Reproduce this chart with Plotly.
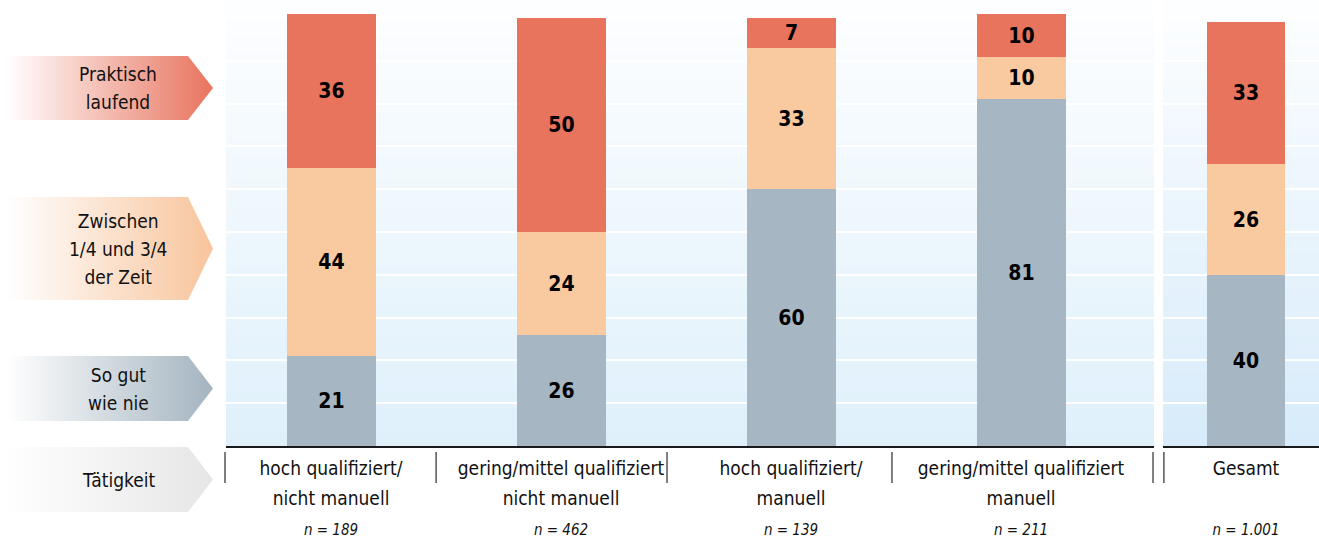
import plotly.graph_objects as go

# ---------------- data ----------------
categories = ["hq_nm", "gm_nm", "hq_m", "gm_m"]
cat_line1 = ["hoch qualifiziert/", "gering/mittel qualifiziert", "hoch qualifiziert/", "gering/mittel qualifiziert"]
cat_line2 = ["nicht manuell", "nicht manuell", "manuell", "manuell"]
n_values = ["189", "462", "139", "211"]

so_gut_wie_nie = [21, 26, 60, 81]
zwischen = [44, 24, 33, 10]
praktisch_laufend = [36, 50, 7, 10]

total_category = ["Gesamt"]
total_n = ["1.001"]
total_so_gut_wie_nie = [40]
total_zwischen = [26]
total_praktisch_laufend = [33]

series_names = ["So gut wie nie", "Zwischen 1/4 und 3/4 der Zeit", "Praktisch laufend"]
arrow_labels = ["Praktisch<br>laufend", "Zwischen<br>1/4 und 3/4<br>der Zeit", "So gut<br>wie nie", "Tätigkeit"]

# ---------------- styling ----------------
W, H = 1319, 539
FONT = "DejaVu Sans Condensed, Liberation Sans Narrow, Roboto Condensed, Arial Narrow, sans-serif"
colors = ["#a6b7c3", "#f9c9a0", "#e8745e"]
arrow_colors = ["#e8745e", "#f8c49c", "#a4b4c0", "#e6e6e6"]

plot_bottom = 446
main_left, main_right = 226, 1154
tot_left, tot_right = 1163, 1319
px_per_unit = 230.0
c0 = 331  # pixel centre of first category
tot_c = 1246

fig = go.Figure()

main_series = [so_gut_wie_nie, zwischen, praktisch_laufend]
tot_series = [total_so_gut_wie_nie, total_zwischen, total_praktisch_laufend]
for name, col, vals, tvals in zip(series_names, colors, main_series, tot_series):
    common = dict(
        marker=dict(color=col, line=dict(width=0)),
        texttemplate="<b>%{y}</b>", textposition="inside", insidetextanchor="middle",
        textangle=0, constraintext="none",
        textfont=dict(family=FONT, size=21, color="black"),
        hoverinfo="skip", showlegend=False, name=name,
    )
    fig.add_trace(go.Bar(x=categories, y=vals, width=89 / px_per_unit, xaxis="x", yaxis="y", **common))
    fig.add_trace(go.Bar(x=total_category, y=tvals, width=78 / px_per_unit, xaxis="x2", yaxis="y2", **common))

# tick labels
def tick(l1, l2, n):
    s = f"<span style='font-size:19px'>{l1}</span>"
    s += f"<br><span style='font-size:19px'>{l2}</span>" if l2 else "<br> "
    s += f"<br><span style='font-size:15px'><i>n = {n}</i></span>"
    return s

main_ticktext = [tick(a, b, n) for a, b, n in zip(cat_line1, cat_line2, n_values)]
tot_ticktext = [tick(total_category[0], "", total_n[0])]

ymax = plot_bottom / 4.28
ydom = [(H - plot_bottom) / H, 1.0]

axis_common = dict(showgrid=False, zeroline=False, ticks="", showline=True,
                   linecolor="#1a1a1a", linewidth=1.5,
                   tickfont=dict(family=FONT, size=23, color="#111"))

layout = dict(
    width=W, height=H,
    margin=dict(l=0, r=0, t=0, b=0),
    paper_bgcolor="white", plot_bgcolor="rgba(0,0,0,0)",
    barmode="stack", bargap=0,
    xaxis=dict(domain=[main_left / W, main_right / W], type="category",
               range=[(main_left - c0) / px_per_unit, (main_right - c0) / px_per_unit],
               tickmode="array", tickvals=categories, ticktext=main_ticktext,
               anchor="y", **axis_common),
    xaxis2=dict(domain=[tot_left / W, 1.0], type="category",
                range=[(tot_left - tot_c) / px_per_unit, (tot_right - tot_c) / px_per_unit],
                tickmode="array", tickvals=total_category, ticktext=tot_ticktext,
                anchor="y2", **axis_common),
    yaxis=dict(domain=ydom, range=[0, ymax], showgrid=True, gridcolor="white", gridwidth=1.5,
               dtick=10, tick0=0, showticklabels=False, zeroline=False, anchor="x"),
    yaxis2=dict(domain=ydom, range=[0, ymax], showgrid=True, gridcolor="white", gridwidth=1.5,
                dtick=10, tick0=0, showticklabels=False, zeroline=False, anchor="x2"),
    xaxis3=dict(domain=[0, (main_left - 1) / W], range=[0, main_left - 1], visible=False,
                fixedrange=True, anchor="y3"),
    yaxis3=dict(domain=[0, 1], range=[H, 0], visible=False, fixedrange=True, anchor="x3"),
)
fig.update_layout(**layout)

# background gradients (decoration)
def lerp(a, b, t):
    return tuple(round(a[i] + (b[i] - a[i]) * t) for i in range(3))

nb = 60
shapes = []
for xr, yr, bottom in (("x domain", "y domain", (223, 240, 251)), ("x2 domain", "y2 domain", (215, 235, 250))):
    top = (253, 254, 255)
    for i in range(nb):
        c = lerp(bottom, top, (i + 0.5) / nb)
        shapes.append(dict(type="rect", xref=xr, yref=yr, x0=0, x1=1,
                           y0=i / nb, y1=(i + 1) / nb + 0.002, layer="below",
                           line=dict(width=0), fillcolor=f"rgb{c}"))

# separators below axis
sep_y0 = (H - 452) / H
sep_y1 = (H - 483) / H
sep_line = dict(color="#555", width=1.5)
shapes.append(dict(type="line", xref="paper", yref="paper", x0=225 / W, x1=225 / W,
                   y0=sep_y0, y1=sep_y1, line=sep_line))
for xv in [0.457, 1.461, 2.439, 3.574]:
    shapes.append(dict(type="line", xref="x", yref="paper", x0=xv, x1=xv, y0=sep_y0, y1=sep_y1,
                       line=sep_line))
shapes.append(dict(type="line", xref="x2", yref="paper", x0=-0.357, x1=-0.357, y0=sep_y0, y1=sep_y1,
                   line=sep_line))
fig.update_layout(shapes=shapes)

# left arrow labels (decoration)
arrows = [(56, 120), (197, 300), (356, 421), (447, 512)]
annotations = []
for (t, b), col, lab in zip(arrows, arrow_colors, arrow_labels):
    m = (t + b) / 2
    fig.add_trace(go.Scatter(
        x=[0, 188, 213, 188, 0, 0], y=[t, t, m, b, b, t], mode="lines", fill="toself",
        line=dict(width=0), fillgradient=dict(type="horizontal", colorscale=[[0, "white"], [0.03, "white"], [1, col]]),
        xaxis="x3", yaxis="y3", hoverinfo="skip", showlegend=False))
    txt = "<br>".join(f"<span style='font-size:19px'>{p}</span>" for p in lab.split("<br>"))
    annotations.append(dict(x=118, y=m, xref="x3", yref="y3", text=txt, showarrow=False,
                            font=dict(family=FONT, size=21.5, color="#111"), align="center"))
fig.update_layout(annotations=annotations)

fig.write_html("out.html", config={"displayModeBar": False},
               post_script="document.documentElement.style.overflow='hidden';document.body.style.margin='0px';document.body.style.overflow='hidden';")
